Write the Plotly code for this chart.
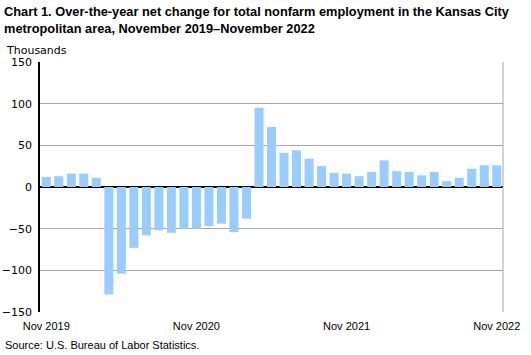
import plotly.graph_objects as go

months = ["Nov 2019","Dec 2019","Jan 2020","Feb 2020","Mar 2020","Apr 2020","May 2020","Jun 2020",
          "Jul 2020","Aug 2020","Sep 2020","Oct 2020","Nov 2020","Dec 2020","Jan 2021","Feb 2021",
          "Mar 2021","Apr 2021","May 2021","Jun 2021","Jul 2021","Aug 2021","Sep 2021","Oct 2021",
          "Nov 2021","Dec 2021","Jan 2022","Feb 2022","Mar 2022","Apr 2022","May 2022","Jun 2022",
          "Jul 2022","Aug 2022","Sep 2022","Oct 2022","Nov 2022"]
values = [12, 13, 16, 16, 11, -129, -104, -73, -58, -52, -55, -50, -50, -47, -44, -54, -38,
          95, 72, 41, 44, 34, 25, 17, 16, 13, 18, 32, 19, 18, 14, 18, 7, 11, 22, 26, 26]
tick_labels = ["Nov 2019", "Nov 2020", "Nov 2021", "Nov 2022"]
y_ticks = [-150, -100, -50, 0, 50, 100, 150]

fig = go.Figure(go.Bar(x=list(range(len(months))), y=values, marker_color="#99ccff",
                       marker_line_width=0, width=0.72, hovertext=months))

fig.update_layout(
    width=531, height=355,
    margin=dict(l=40, r=28, t=62, b=43, autoexpand=False),
    paper_bgcolor="white", plot_bgcolor="white",
    showlegend=False,
    font=dict(family="DejaVu Sans", size=11, color="black"),
)
fig.update_xaxes(
    range=[-0.5, len(months) - 0.5], automargin=False,
    tickvals=[months.index(t) for t in tick_labels], ticktext=tick_labels,
    showgrid=False, zeroline=False, showline=False, ticks="", ticklabelstandoff=6,
    tickfont=dict(family="Liberation Sans", size=11),
)
fig.update_yaxes(
    range=[-150, 150], tickvals=y_ticks, automargin=False,
    showgrid=True, gridcolor="#a6a6a6", gridwidth=1,
    zeroline=True, zerolinecolor="black", zerolinewidth=1.5,
    showline=True, linecolor="black", linewidth=1.5,
    mirror=False, ticks="", ticklen=0, ticklabelstandoff=4,
    tickfont=dict(family="DejaVu Sans", size=11),
)
# right border
fig.add_shape(type="line", xref="paper", yref="paper", x0=1, x1=1, y0=0, y1=1,
              line=dict(color="#a6a6a6", width=1))

fig.add_annotation(
    text="<b>Chart 1. Over-the-year net change for total nonfarm employment in the Kansas City<br>metropolitan area, November 2019\u2013November 2022</b>",
    xref="paper", yref="paper", x=-38/463, y=1 + 60/250, xanchor="left", yanchor="top",
    align="left", showarrow=False, font=dict(family="Liberation Sans", size=12.8),
)
fig.add_annotation(
    text="Thousands", xref="paper", yref="paper", x=-36/463, y=1 + 11/250,
    xanchor="left", yanchor="middle", showarrow=False,
    font=dict(family="DejaVu Sans", size=11),
)
fig.add_annotation(
    text="Source: U.S. Bureau of Labor Statistics.", xref="paper", yref="paper",
    x=-37/463, y=-33/250, xanchor="left", yanchor="middle", showarrow=False,
    font=dict(family="Liberation Sans", size=11),
)

fig.write_html("out.html", config={"displayModeBar": False},
               post_script="document.body.style.margin='0';")
